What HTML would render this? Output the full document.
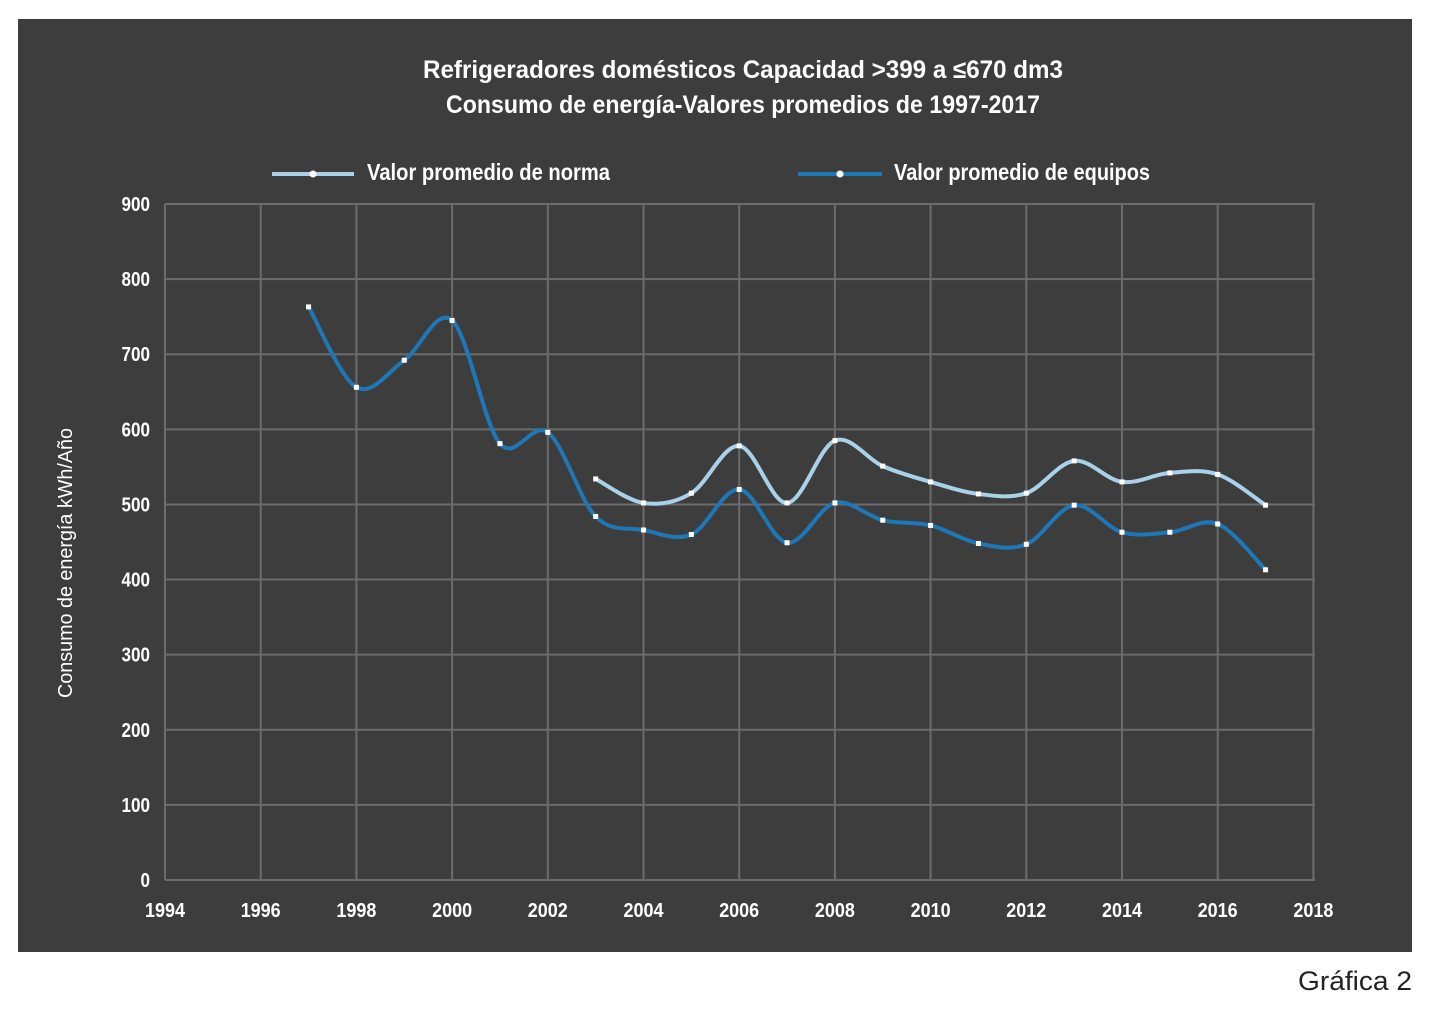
<!DOCTYPE html>
<html><head><meta charset="utf-8"><style>
body{margin:0;background:#fff;width:1444px;height:1015px;overflow:hidden}
text{font-family:"Liberation Sans Narrow","Liberation Sans",sans-serif;font-weight:bold}
</style></head><body>
<svg id="s" width="1444" height="1015" xmlns="http://www.w3.org/2000/svg">
<rect x="18" y="19" width="1394" height="933" fill="#3d3d3d"/>
<g id="grid" stroke="#6c6c6c" stroke-width="2"></g>
<text x="423" y="78" fill="#fff" font-size="25" textLength="640" lengthAdjust="spacingAndGlyphs">Refrigeradores domésticos Capacidad   &gt;399 a  ≤670 dm3</text>
<text x="446" y="113" fill="#fff" font-size="25" textLength="594" lengthAdjust="spacingAndGlyphs">Consumo de energía-Valores promedios de 1997-2017</text>
<line x1="272" y1="174" x2="354" y2="174" stroke="#a9d2ea" stroke-width="4"/>
<circle cx="313" cy="174" r="3.5" fill="#fff"/>
<text x="367" y="180" fill="#fff" font-size="23" textLength="243" lengthAdjust="spacingAndGlyphs">Valor promedio de norma</text>
<line x1="798" y1="174" x2="882" y2="174" stroke="#1e78b8" stroke-width="4"/>
<circle cx="840" cy="174" r="3.5" fill="#fff"/>
<text x="894" y="180" fill="#fff" font-size="23" textLength="256" lengthAdjust="spacingAndGlyphs">Valor promedio de equipos</text>
<text transform="translate(72,563) rotate(-90)" fill="#fff" font-size="20" style="font-weight:normal" text-anchor="middle" textLength="270" lengthAdjust="spacingAndGlyphs">Consumo de energía kWh/Año</text>
<g id="lab" fill="#fff" font-size="20"></g>
<g id="ser"></g>
<text x="1412" y="990" fill="#222" font-size="27" text-anchor="end" style="font-weight:normal" textLength="114" lengthAdjust="spacingAndGlyphs">Gráfica 2</text>
</svg>
<script>
var X=y=>165+(y-1994)*47.85, Y=v=>880-v*0.7511;
var g=document.getElementById('grid'),l=document.getElementById('lab'),s=document.getElementById('ser'),ns='http://www.w3.org/2000/svg';
function el(p,t,a,tx){var e=document.createElementNS(ns,t);for(var k in a)e.setAttribute(k,a[k]);if(tx!=null)e.textContent=tx;p.appendChild(e);return e}
for(var v=0;v<=900;v+=100){el(g,'line',{x1:165,x2:1315,y1:Y(v),y2:Y(v)});el(l,'text',{x:150,y:Y(v)+7,'text-anchor':'end',textLength:String(v).length*9.5,lengthAdjust:'spacingAndGlyphs'},v)}
for(var yr=1994;yr<=2018;yr+=2){el(g,'line',{x1:X(yr),x2:X(yr),y1:204,y2:880});el(l,'text',{x:X(yr)-20,y:917,textLength:40,lengthAdjust:'spacingAndGlyphs'},yr)}
function path(yr0,d){var p=d.map((v,i)=>[X(yr0+i),Y(v)]),s='M'+p[0];for(var i=0;i<p.length-1;i++){var a=p[i-1]||p[i],b=p[i],c=p[i+1],e=p[i+2]||c;s+=' C'+(b[0]+(c[0]-a[0])/6)+','+(b[1]+(c[1]-a[1])/6)+' '+(c[0]-(e[0]-b[0])/6)+','+(c[1]-(e[1]-b[1])/6)+' '+c}return [s,p]}
function series(yr0,d,col){var r=path(yr0,d);el(s,'path',{d:r[0],fill:'none',stroke:col,'stroke-width':4});r[1].forEach(q=>el(s,'rect',{x:q[0]-2.5,y:q[1]-2.5,width:5,height:5,fill:'#fff'}))}
series(1997,[763,656,692,745,581,596,484,466,460,520,449,502,479,472,448,447,499,463,463,474,413],'#1e78b8');
series(2003,[534,502,515,578,502,585,551,530,514,515,558,530,542,540,499],'#a9d2ea');
</script>
</body></html>
